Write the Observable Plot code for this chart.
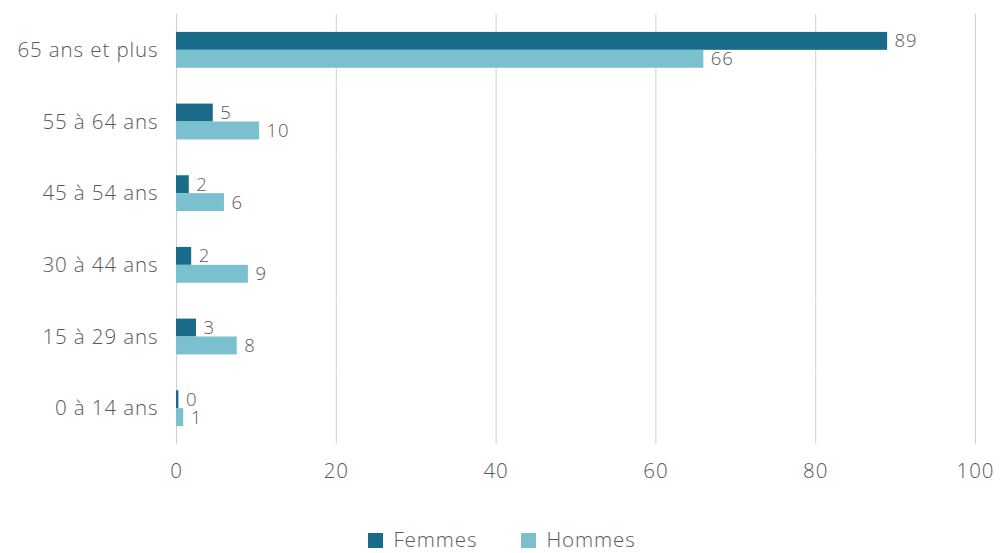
<!DOCTYPE html>
<html>
<head>
<meta charset="utf-8">
<script src="https://cdn.jsdelivr.net/npm/d3@7"></script>
<script src="https://cdn.jsdelivr.net/npm/@observablehq/plot@0.6"></script>
<style>
  body { margin: 0; background: #fff; font-family: "Open Sans", sans-serif; }
  #chart { width: 1000px; }
  #chart svg { display: block; letter-spacing: 0.9px; }
  .legend { display: flex; justify-content: center; gap: 44px; height: 28px; line-height: 28px; align-items: center; padding-left: 4px;
    font-family: "Open Sans", sans-serif; font-weight: 300; font-size: 20.5px; letter-spacing: 0.9px; color: #595959; }
  .legend span.sw { display: inline-block; width: 15px; height: 15px; margin-right: 10px; vertical-align: -1px; }
</style>
</head>
<body>
<div id="chart"></div>
<script>
const ages = ["65 ans et plus", "55 à 64 ans", "45 à 54 ans", "30 à 44 ans", "15 à 29 ans", "0 à 14 ans"];
const femmes = [89, 4.6, 1.6, 1.9, 2.5, 0.3];
const hommes = [66, 10.4, 6.0, 9.0, 7.6, 0.9];
const series = ["Femmes", "Hommes"];
const colors = ["#1a6b8a", "#7bc0cf"];
const xTicks = [0, 20, 40, 60, 80, 100];

const data = [];
ages.forEach((a, i) => {
  data.push({age: a, sexe: "Femmes", v: femmes[i]});
  data.push({age: a, sexe: "Hommes", v: hommes[i]});
});

const fmt = d3.format(".0f");

const plot = Plot.plot({
  width: 1000,
  height: 525,
  marginLeft: 176,
  marginRight: 25,
  marginTop: 14,
  marginBottom: 81,
  style: {fontFamily: "'Open Sans', sans-serif", fontWeight: 300, color: "#595959", background: "#fff"},
  x: {domain: [0, 100], ticks: xTicks},
  y: {domain: series, paddingInner: 0, paddingOuter: 1, round: false, axis: null},
  fy: {domain: ages, padding: 0, round: false, label: null},
  color: {domain: series, range: colors},
  marks: [
    Plot.gridX(xTicks, {stroke: "#d0d0d0", strokeOpacity: 1, strokeWidth: 1}),
    Plot.barX(data, {x: "v", y: "sexe", fy: "age", fill: "sexe"}),
    Plot.text(data, {x: "v", y: "sexe", fy: "age", text: d => fmt(d.v), textAnchor: "start", dx: 7, fontSize: 18.5, fill: "#595959"}),
    Plot.axisX(xTicks, {tickSize: 0, tickPadding: 19, fontSize: 20.5, fill: "#595959", label: null, tickFormat: d => d}),
    Plot.axisFy({anchor: "left", tickSize: 0, tickPadding: 18, fontSize: 20.5, fill: "#595959", label: null})
  ]
});
document.getElementById("chart").appendChild(plot);

const lg = document.createElement("div");
lg.className = "legend";
series.forEach((s, i) => {
  const it = document.createElement("div");
  it.innerHTML = `<span class="sw" style="background:${colors[i]}"></span>${s}`;
  lg.appendChild(it);
});
document.getElementById("chart").appendChild(lg);
</script>
</body>
</html>
